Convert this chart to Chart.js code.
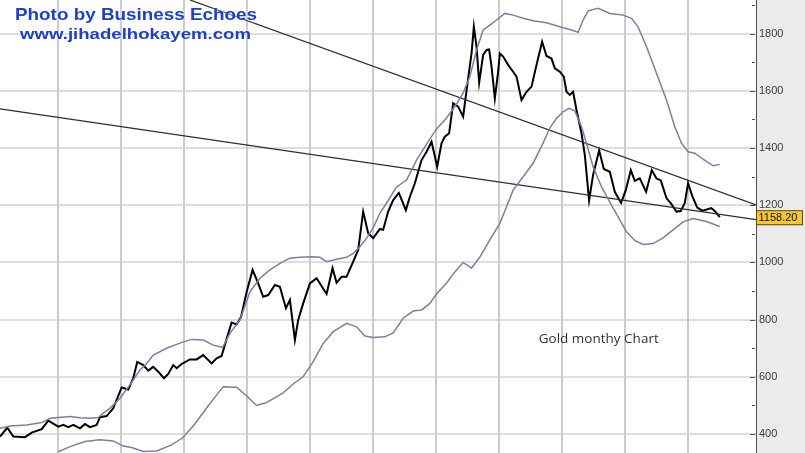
<!DOCTYPE html>
<html>
<head>
<meta charset="utf-8">
<script src="https://cdn.jsdelivr.net/npm/chart.js@4.4.0/dist/chart.umd.min.js"></script>
<style>
  body { margin: 0; background: #fff; }
  canvas { display: block; }
</style>
</head>
<body>
<canvas id="chart" width="805" height="453"></canvas>
<script>
// x values are months counted from Jan 2004 (12 = Jan 2005, 132 = Jan 2015)
const yearStartMonths = [12, 24, 36, 48, 60, 72, 84, 96, 108, 120, 132];

const priceMonths = [0.95,2.34,3.49,5.71,6.99,8.89,10.15,12.06,13.01,13.96,
  14.91,16.19,17.14,18.10,19.37,20.0,21.27,22.53,24.13,25.39,
  26.34,27.10,28.25,29.20,30.15,31.10,32.19,33.01,33.96,34.61,
  35.56,37.14,38.42,39.67,41.27,42.23,43.18,44.0,45.08,46.04,
  46.86,47.94,49.08,50.15,51.10,52.06,53.33,54.28,55.43,56.19,
  57.14,57.77,58.72,60.0,61.27,63.18,64.32,65.08,66.04,66.99,
  68.25,69.20,70.15,71.10,72.06,73.33,73.96,74.91,75.87,76.95,
  78.28,79.05,80.0,81.27,82.23,83.18,84.25,85.08,85.71,86.53,
  87.30,88.25,89.20,90.15,90.80,91.24,91.75,92.25,93.01,93.66,
  94.15,94.61,95.24,95.87,96.19,96.82,97.77,98.72,99.37,100.32,
  101.28,102.23,103.18,104.25,105.08,106.04,106.67,107.62,108.38,108.89,
  109.52,110.15,110.80,111.75,112.38,113.20,113.96,115.11,116.0,117.14,
  118.09,119.29,120.19,121.14,121.90,122.86,124.06,125.14,126.04,126.86,
  127.94,128.89,129.85,130.67,131.43,132.06,132.86,133.81,134.76,135.62,
  136.48,137.14,138.10];
const priceValues = [391,422,391,389,405,417,447,426,432,424,
  432,420,435,424,432,459,463,490,563,556,
  595,652,641,622,635,618,595,610,641,630,
  645,661,661,676,647,665,673,725,790,783,
  808,897,974,927,880,886,921,915,840,869,
  729,799,857,927,945,890,980,929,950,950,
  1003,1044,1178,1102,1085,1117,1114,1178,1218,1243,
  1183,1230,1277,1358,1387,1422,1335,1417,1440,1452,
  1557,1545,1510,1644,1731,1824,1755,1629,1726,1743,
  1745,1685,1574,1667,1731,1720,1691,1667,1650,1568,
  1597,1615,1691,1772,1722,1713,1679,1667,1650,1597,
  1586,1597,1533,1452,1376,1217,1306,1392,1327,1317,
  1247,1208,1253,1323,1285,1294,1247,1323,1294,1287,
  1225,1204,1178,1180,1208,1277,1232,1192,1181,1185,
  1190,1180,1158.2];

const upperMonths = [0.95,2.86,6.04,8.89,10.48,12.06,14.29,16.19,18.10,19.68,
  20.63,21.90,23.81,25.71,27.62,28.89,30.15,32.70,35.24,37.47,
  39.68,41.58,43.37,44.76,46.67,48.57,50.48,52.38,54.29,56.19,
  58.10,60.32,61.90,63.18,65.09,66.99,68.25,69.52,70.80,72.06,
  73.33,74.61,76.51,78.42,80.32,82.23,84.13,86.04,87.94,89.20,
  90.48,91.75,93.01,94.29,95.56,97.14,98.72,100.63,102.53,105.09,
  107.62,109.85,111.11,112.06,113.01,114.91,117.14,119.68,121.28,122.53,
  124.13,126.04,127.94,129.52,130.80,132.06,133.33,134.91,136.82,138.10];
const upperValues = [420,428,432,440,455,458,461,457,455,458,
  473,490,525,572,624,647,676,700,718,731,
  729,711,703,752,799,897,945,974,997,1015,
  1018,1020,1018,1003,1011,1018,1032,1055,1085,1121,
  1172,1208,1264,1288,1358,1414,1467,1505,1554,1593,
  1650,1743,1813,1830,1848,1871,1865,1854,1845,1838,
  1824,1813,1805,1848,1880,1889,1871,1865,1854,1824,
  1755,1662,1568,1475,1417,1387,1382,1361,1338,1343];

const lowerMonths = [12.06,14.29,17.14,20.0,22.53,24.44,26.04,28.25,30.80,33.66,
  35.71,37.77,40.32,42.23,43.49,46.04,47.94,49.85,51.75,54.91,
  56.82,58.72,60.63,62.53,64.44,66.99,68.89,70.48,72.06,74.29,
  75.87,77.77,79.68,81.28,82.86,84.13,86.04,87.62,89.20,90.80,
  92.38,94.29,96.19,97.47,98.72,100.63,102.53,104.44,105.71,106.99,
  108.25,109.33,110.48,111.75,112.70,113.96,115.56,117.14,119.05,120.32,
  121.90,123.49,125.39,127.30,129.20,131.11,133.01,135.56,138.10];
const lowerValues = [338,356,374,380,376,358,353,339,341,362,
  386,428,491,537,565,564,533,500,510,544,
  575,601,653,717,758,787,775,743,738,740,
  754,805,830,834,857,890,928,967,1000,980,
  1019,1079,1137,1195,1253,1300,1347,1418,1470,1504,
  1527,1539,1530,1475,1417,1335,1265,1211,1149,1107,
  1077,1063,1066,1086,1114,1142,1154,1143,1126];

const trendAMonths = [37.14, 145];
const trendAValues = [1918, 1201];
const trendBMonths = [0.95, 145];
const trendBValues = [1537, 1150];

const lastPriceLabel = '1158.20';
const chartNote = 'Gold monthy Chart';
const creditLines = ['Photo by Business Echoes', 'www.jihadelhokayem.com'];

const toPoints = (xs, ys) => xs.map((x, i) => ({ x: x, y: ys[i] }));

// grey strip, vertical year lines, inner tick dashes, price box and captions
const decorPlugin = {
    id: 'decor',
    beforeDraw: (chart) => {
        const { ctx, width, height } = chart;
        const yScale = chart.scales.y;
        ctx.save();
        ctx.fillStyle = '#ffffff';
        ctx.fillRect(0, 0, width, height);
        ctx.fillStyle = '#ebebeb';
        ctx.fillRect(yScale.left, 0, width - yScale.left, height);
        ctx.restore();
    },
    beforeDatasetsDraw: (chart) => {
        const { ctx, chartArea } = chart;
        const xScale = chart.scales.x;
        ctx.save();
        ctx.strokeStyle = '#cbcbcb';
        ctx.lineWidth = 2;
        yearStartMonths.forEach((m) => {
            const x = Math.round(xScale.getPixelForValue(m));
            ctx.beginPath();
            ctx.moveTo(x, chartArea.top);
            ctx.lineTo(x, chartArea.bottom);
            ctx.stroke();
        });
        ctx.restore();
    },
    afterDraw: (chart) => {
        const { ctx } = chart;
        const yScale = chart.scales.y;
        const xScale = chart.scales.x;
        const axisX = yScale.left;

        ctx.save();
        ctx.strokeStyle = '#555';
        ctx.lineWidth = 1;
        yScale.ticks.forEach((t) => {
            const y = Math.round(yScale.getPixelForValue(t.value)) + 0.5;
            const len = t.value % 200 === 0 ? 5 : 3;
            ctx.beginPath();
            ctx.moveTo(axisX - len - 1, y);
            ctx.lineTo(axisX - 1, y);
            ctx.stroke();
        });

        // last price box
        const last = priceValues[priceValues.length - 1];
        const by = yScale.getPixelForValue(last);
        ctx.fillStyle = '#f6c636';
        ctx.strokeStyle = '#5a4a10';
        ctx.fillRect(axisX, by - 7, 47, 15);
        ctx.strokeRect(axisX + 0.5, by - 6.5, 46, 14);
        ctx.fillStyle = '#111';
        ctx.font = '11px "Liberation Sans", Arial, sans-serif';
        ctx.textBaseline = 'middle';
        ctx.textAlign = 'left';
        ctx.fillText(lastPriceLabel, axisX + 2.5, by + 1);

        // note inside the plot
        ctx.fillStyle = '#333';
        ctx.font = '12.5px "Open Sans", sans-serif';
        ctx.textBaseline = 'middle';
        const nx = xScale.getPixelForValue(103.6);
        const ny = yScale.getPixelForValue(732);
        const nw = ctx.measureText(chartNote).width;
        ctx.save();
        ctx.translate(nx, ny);
        ctx.scale(120 / nw, 1);
        ctx.fillText(chartNote, 0, 0);
        ctx.restore();

        // credit text top-left
        const drawCredit = (text, size, left, base, targetW) => {
            ctx.save();
            ctx.font = 'bold ' + size + 'px "Liberation Sans", Arial, sans-serif';
            const w = ctx.measureText(text).width;
            ctx.translate(left, base);
            ctx.scale(targetW / w, 1);
            ctx.textBaseline = 'alphabetic';
            ctx.shadowColor = 'rgba(255,255,255,0.95)';
            ctx.shadowBlur = 4;
            ctx.fillStyle = '#1f40c4';
            ctx.fillText(text, 0, 0);
            ctx.restore();
        };
        drawCredit(creditLines[0], 16.3, 15, 20, 242);
        drawCredit(creditLines[1], 15.5, 20, 38.5, 231);
        ctx.restore();
    },
};

const ctx = document.getElementById('chart').getContext('2d');
new Chart(ctx, {
    type: 'line',
    data: {
        datasets: [
            {
                label: 'Upper band',
                data: toPoints(upperMonths, upperValues),
                borderColor: '#8b76a4',
                borderWidth: 1.5,
            },
            {
                label: 'Lower band',
                data: toPoints(lowerMonths, lowerValues),
                borderColor: '#8b76a4',
                borderWidth: 1.5,
            },
            {
                label: 'Trend A',
                data: toPoints(trendAMonths, trendAValues),
                borderColor: '#2e2e2e',
                borderWidth: 1.3,
            },
            {
                label: 'Trend B',
                data: toPoints(trendBMonths, trendBValues),
                borderColor: '#2e2e2e',
                borderWidth: 1.3,
            },
            {
                label: 'Gold',
                data: toPoints(priceMonths, priceValues),
                borderColor: '#000000',
                borderWidth: 2,
            },
        ],
    },
    options: {
        responsive: false,
        animation: false,
        devicePixelRatio: 1,
        layout: { padding: 0 },
        elements: {
            point: { radius: 0 },
            line: { tension: 0, fill: false },
        },
        plugins: {
            legend: { display: false },
            tooltip: { enabled: false },
        },
        scales: {
            x: {
                type: 'linear',
                min: 0.95,
                max: 145,
                ticks: { display: false },
                grid: { display: false, drawTicks: false },
                border: { display: false },
                afterFit: (scale) => { scale.height = 0; },
            },
            y: {
                position: 'right',
                min: 333.7,
                max: 1917.85,
                ticks: {
                    stepSize: 100,
                    includeBounds: false,
                    autoSkip: false,
                    padding: 3,
                    color: '#3c3c3c',
                    font: { family: '"Liberation Sans", Arial, sans-serif', size: 11 },
                    callback: (v) => (v % 200 === 0 ? String(v) : ''),
                },
                grid: {
                    drawTicks: false,
                    lineWidth: 2,
                    color: (c) => (c.tick && c.tick.value % 200 === 0 ? '#dedede' : 'rgba(0,0,0,0)'),
                },
                border: { display: true, color: '#4a4a4a', width: 1 },
                afterFit: (scale) => {
                    scale.width = 49;
                    scale.paddingTop = 0;
                    scale.paddingBottom = 0;
                },
            },
        },
    },
    plugins: [decorPlugin],
});
</script>
</body>
</html>
